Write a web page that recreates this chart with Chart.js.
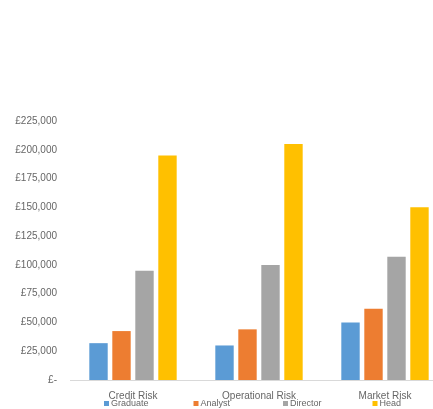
<!DOCTYPE html>
<html>
<head>
<meta charset="utf-8">
<script src="https://cdn.jsdelivr.net/npm/chart.js@4.4.0/dist/chart.umd.min.js"></script>
<style>
  html, body { margin: 0; padding: 0; background: #fff; overflow: hidden; }
  #wrap { width: 460px; height: 409px; }
</style>
</head>
<body>
<div id="wrap"><canvas id="chart"></canvas></div>
<script>
const categories = ["Credit Risk", "Operational Risk", "Market Risk"];
const seriesNames = ["Graduate", "Analyst", "Director", "Head"];
const graduate = [32000, 30000, 50000];
const analyst = [42500, 44000, 62000];
const director = [95000, 100000, 107000];
const head = [195000, 205000, 150000];
const colors = ["#5B9BD5", "#ED7D31", "#A5A5A5", "#FFC000"];

const seriesValues = [graduate, analyst, director, head];

// excel style legend spread under the axis
const spreadLegend = {
  id: "spreadLegend",
  afterDraw(chart) {
    const ctx = chart.ctx;
    const area = chart.chartArea;
    ctx.save();
    ctx.font = "9px 'Liberation Sans', Arial, sans-serif";
    ctx.textBaseline = "middle";
    chart.data.datasets.forEach((ds, i) => {
      const x = area.left + 34 + i * 89.5;
      const y = 404;
      ctx.fillStyle = ds.backgroundColor;
      ctx.fillRect(x, y - 3, 5, 5);
      ctx.fillStyle = "#666666";
      ctx.fillText(ds.label, x + 7, y);
    });
    ctx.restore();
  }
};

const ctx = document.getElementById("chart").getContext("2d");
new Chart(ctx, {
  type: "bar",
  data: {
    labels: categories,
    datasets: seriesNames.map((name, i) => ({
      label: name,
      data: seriesValues[i],
      backgroundColor: colors[i],
      borderWidth: 0,
      categoryPercentage: 0.73,
      barPercentage: 0.8,
    })),
  },
  options: {
    responsive: true,
    maintainAspectRatio: false,
    animation: false,
    layout: { padding: { top: 121, right: 12, bottom: 5, left: 0 } },
    plugins: {
      legend: { display: false },
      tooltip: { enabled: false },
    },
    scales: {
      x: {
        grid: { display: false },
        border: { display: true, color: "#d9d9d9" },
        ticks: {
          color: "#666666",
          font: { family: "'Liberation Sans', Arial, sans-serif", size: 10 },
          padding: 2,
        },
      },
      y: {
        min: 0,
        max: 225000,
        grid: { display: false },
        border: { display: false },
        afterFit(scale) { scale.width = 70; },
        ticks: {
          stepSize: 25000,
          padding: 5,
          color: "#666666",
          font: { family: "'Liberation Sans', Arial, sans-serif", size: 10 },
          callback(v) {
            if (v === 0) return "£-";
            return "£" + v.toLocaleString("en-GB");
          },
        },
      },
    },
  },
  plugins: [spreadLegend],
});
</script>
</body>
</html>
